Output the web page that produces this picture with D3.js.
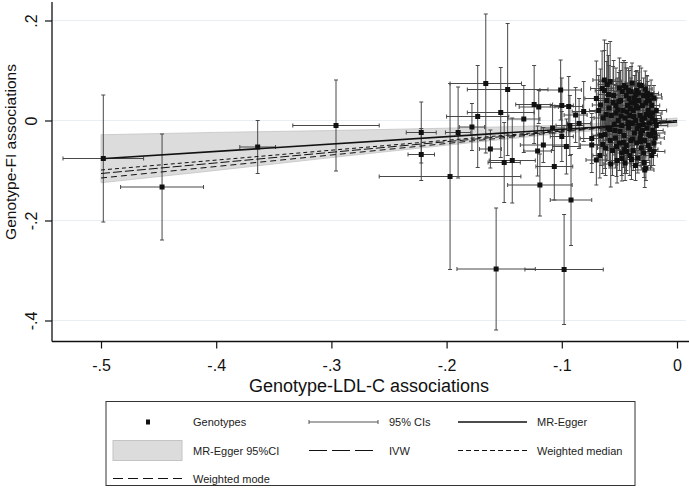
<!DOCTYPE html>
<html>
<head>
<meta charset="utf-8">
<script src="https://cdn.jsdelivr.net/npm/d3@7"></script>
<style>
html,body{margin:0;padding:0;background:#fff;}
svg{display:block;font-family:"Liberation Sans",Arial,sans-serif;}
</style>
</head>
<body>
<svg id="chart" width="689" height="489"></svg>
<script>
// ---- data ----
const xTicks = [-0.5, -0.4, -0.3, -0.2, -0.1, 0];
const xTickLabels = ["-.5", "-.4", "-.3", "-.2", "-.1", "0"];
const yTicks = [-0.4, -0.2, 0, 0.2];
const yTickLabels = ["-.4", "-.2", "0", ".2"];

// genotype-LDL-C association (x), genotype-FI association (y), 95% CI half widths
const snpBx = [
 -0.498,-0.447,-0.364,-0.296,-0.222,-0.222,-0.197,-0.157,-0.098,-0.092,
 -0.119,-0.1065,-0.143,-0.150,-0.190,-0.166,-0.147,-0.173,-0.153,-0.178,
 -0.162,-0.133,-0.124,-0.120,-0.116,-0.121,-0.101,-0.094,-0.100,-0.088,
 -0.093,-0.085,-0.096,-0.100,-0.081,-0.063,-0.058,-0.074,-0.070,-0.028,
 -0.026,-0.065,-0.070,-0.074,-0.108,
 -0.068,-0.066,-0.064,-0.062,-0.061,-0.060,-0.067,-0.063,-0.059,-0.058,
 -0.057,-0.056,-0.055,-0.054,-0.053,-0.052,-0.051,-0.050,-0.050,-0.053,
 -0.049,-0.048,-0.048,-0.047,-0.046,-0.046,-0.045,-0.045,-0.044,-0.044,-0.043,-0.042,-0.042,-0.041,-0.041,-0.040,-0.040,
 -0.039,-0.039,-0.038,-0.038,-0.037,-0.037,-0.036,-0.036,-0.035,-0.035,-0.034,-0.034,-0.033,-0.033,-0.032,-0.032,-0.031,-0.031,-0.030,-0.030,
 -0.029,-0.029,-0.028,-0.028,-0.027,-0.027,-0.026,-0.026,-0.025,-0.025,-0.024,-0.024,-0.023,-0.023,-0.022,-0.022,-0.021,-0.021,-0.020,-0.020,-0.019,-0.019,-0.018,-0.018,
 -0.0665,-0.0645,-0.0615,-0.0595,-0.0575,-0.0555,-0.0535,-0.0515,-0.0495,-0.0475,
 -0.0455,-0.0435,-0.0415,-0.0395,-0.0375,-0.0355,-0.0335,-0.0315,-0.0295,-0.0275,
 -0.0255,-0.0235,-0.0215,-0.0195,-0.0485,-0.0465,-0.0445,-0.0425,-0.0405,-0.0385,
 -0.0365,-0.0345,-0.0325,-0.0305,-0.0285,-0.0265,-0.0245,-0.0225,-0.0205,-0.0545,
 -0.0525,-0.0505,-0.0585,-0.0605,-0.0625,-0.0478,-0.0438,-0.0398,-0.0358,-0.0318
];
const snpBy = [
 -0.076,-0.133,-0.053,-0.010,-0.024,-0.068,-0.112,-0.297,-0.298,-0.159,
 -0.129,-0.092,-0.080,-0.084,-0.024,0.074,0.062,0.008,0.016,-0.013,
 -0.057,0.003,0.032,0.027,-0.049,-0.061,0.061,0.028,0.030,0.011,
 -0.010,-0.006,-0.052,-0.032,0.018,0.081,0.078,-0.049,-0.079,-0.099,
 0.054,0.064,0.044,-0.036,-0.015,
 0.020,-0.030,0.005,-0.055,0.040,-0.015,-0.070,0.060,0.025,-0.040,
 0.010,-0.060,0.050,-0.020,0.030,-0.080,0.000,0.065,-0.045,0.015,
 0.040,-0.010,-0.065,0.020,0.070,-0.030,0.005,-0.085,0.050,-0.050,0.030,-0.015,0.060,-0.070,0.010,-0.040,0.035,
 -0.005,0.075,-0.060,0.020,0.045,-0.025,-0.090,0.000,0.060,-0.045,0.025,-0.075,-0.010,0.040,-0.035,0.010,0.070,-0.055,0.030,-0.020,
 0.050,-0.065,0.005,-0.040,0.035,-0.095,0.055,-0.015,0.020,-0.050,-0.005,0.040,-0.030,0.010,-0.070,0.030,-0.020,0.015,-0.045,0.045,0.000,-0.035,0.020,-0.010,
 0.031,-0.048,0.012,0.052,-0.087,0.036,-0.035,0.021,-0.022,0.058,
 -0.058,0.017,0.044,-0.078,0.008,0.028,0.055,-0.026,-0.008,0.063,
 0.044,-0.058,0.004,-0.025,0.009,-0.044,0.066,-0.004,0.024,-0.037,
 0.036,-0.016,0.071,0.002,-0.084,0.012,-0.028,0.051,-0.062,-0.007,
 -0.052,0.038,-0.018,0.072,-0.028,-0.076,-0.062,0.058,0.052,-0.042
];
const snpBxCI = [
 0.035,0.036,0.0155,0.0375,0.013,0.0115,0.0615,0.034,0.034,0.018,
 0.028,0.016,0.020,0.014,0.011,0.031,0.035,0.027,0.029,0.011,
 0.0095,0.014,0.016,0.017,0.020,0.012,0.018,0.012,0.010,0.010,
 0.012,0.010,0.012,0.010,0.010,0.010,0.010,0.010,0.009,0.008,
 0.010,0.010,0.010,0.010,0.010,
 0.008,0.007,0.008,0.007,0.009,0.008,0.006,0.008,0.007,0.006,
 0.007,0.006,0.008,0.007,0.006,0.006,0.007,0.007,0.006,0.006,
 0.006,0.006,0.005,0.006,0.007,0.006,0.006,0.005,0.006,0.005,0.006,0.005,0.006,0.005,0.005,0.005,0.005,
 0.005,0.006,0.005,0.005,0.005,0.005,0.004,0.005,0.005,0.005,0.005,0.004,0.005,0.005,0.004,0.004,0.005,0.004,0.004,0.004,
 0.006,0.005,0.008,0.006,0.007,0.004,0.006,0.008,0.007,0.006,0.010,0.006,0.008,0.009,0.005,0.007,0.009,0.008,0.006,0.007,0.010,0.008,0.009,0.010,
 0.007,0.008,0.006,0.009,0.006,0.007,0.007,0.006,0.006,0.007,
 0.006,0.006,0.007,0.005,0.006,0.006,0.005,0.006,0.007,0.006,
 0.008,0.007,0.008,0.009,0.006,0.005,0.006,0.006,0.005,0.005,
 0.005,0.006,0.005,0.006,0.005,0.007,0.008,0.009,0.010,0.007,
 0.006,0.006,0.007,0.008,0.007,0.005,0.005,0.005,0.005,0.005
];
const snpByCI = [
 0.127,0.106,0.053,0.091,0.061,0.052,0.186,0.122,0.110,0.091,
 0.062,0.067,0.085,0.080,0.091,0.139,0.132,0.102,0.090,0.047,
 0.038,0.067,0.078,0.033,0.035,0.050,0.060,0.060,0.055,0.055,
 0.060,0.050,0.055,0.050,0.060,0.080,0.080,0.055,0.050,0.035,
 0.035,0.075,0.075,0.050,0.045,
 0.070,0.060,0.075,0.055,0.078,0.065,0.045,0.080,0.085,0.055,
 0.070,0.050,0.070,0.065,0.075,0.045,0.060,0.060,0.055,0.055,
 0.060,0.055,0.045,0.050,0.050,0.055,0.050,0.035,0.055,0.050,0.045,0.045,0.045,0.040,0.045,0.045,0.050,
 0.045,0.040,0.040,0.040,0.045,0.040,0.030,0.040,0.040,0.040,0.035,0.030,0.035,0.040,0.035,0.035,0.035,0.035,0.035,0.030,
 0.035,0.030,0.030,0.030,0.030,0.025,0.035,0.030,0.030,0.030,0.030,0.030,0.030,0.025,0.025,0.025,0.025,0.025,0.025,0.025,0.025,0.025,0.025,0.020,
 0.072,0.058,0.066,0.078,0.046,0.072,0.060,0.064,0.055,0.058,
 0.048,0.052,0.056,0.040,0.048,0.045,0.042,0.040,0.038,0.036,
 0.034,0.032,0.030,0.028,0.058,0.050,0.050,0.048,0.046,0.044,
 0.042,0.040,0.038,0.036,0.030,0.032,0.030,0.030,0.028,0.062,
 0.060,0.058,0.066,0.082,0.068,0.045,0.044,0.050,0.046,0.038
];

// MR-Egger 95% CI band
const bandX = [-0.5, -0.4, -0.3, -0.2, -0.1, -0.05, 0];
const bandLower = [-0.1245, -0.0998, -0.0741, -0.0494, -0.0257, -0.0164, -0.011];
const bandUpper = [-0.0285, -0.0238, -0.0201, -0.0154, -0.0097, -0.0044, 0.005];

// fitted lines (y at the two ends of lineX)
const lineX = [-0.5, 0];
const eggerY = [-0.0765, -0.003];
const ivwY = [-0.106, 0];
const medianY = [-0.099, 0];
const modeY = [-0.115, 0];

// ---- drawing ----
const svg = d3.select("#chart");
const x = d3.scaleLinear().domain([-0.5, 0]).range([101, 677]);
const y = d3.scaleLinear().domain([-0.4, 0.2]).range([320.5, 20.5]);
const plotL = 52, plotR = 689, plotT = 2, plotB = 341.5;

// gridlines
svg.append("g").selectAll("line").data(yTicks).join("line")
  .attr("x1", plotL).attr("x2", 686)
  .attr("y1", d => y(d)).attr("y2", d => y(d))
  .attr("stroke", "#e8eff2").attr("stroke-width", 1.2);

// band
const bandData = bandX.map((v, i) => ({x: v, lo: bandLower[i], hi: bandUpper[i]}));
svg.append("path").datum(bandData)
  .attr("d", d3.area().x(d => x(d.x)).y0(d => y(d.lo)).y1(d => y(d.hi)))
  .attr("fill", "#dcdcdc").attr("stroke", "#c4c4c4").attr("stroke-width", 0.8);

// genotypes with CIs
const snps = snpBx.map((v, i) => ({bx: v, by: snpBy[i], hx: snpBxCI[i], hy: snpByCI[i]}));
const ci = svg.append("g").attr("stroke", "#484848").attr("stroke-width", 1).attr("fill", "none");
const cap = 2;
snps.forEach(d => {
  const cx = x(d.bx), cy = y(d.by);
  const x0 = x(d.bx - d.hx), x1 = x(d.bx + d.hx);
  const y0 = y(d.by - d.hy), y1 = y(d.by + d.hy);
  ci.append("line").attr("x1", cx).attr("x2", cx).attr("y1", y0).attr("y2", y1);
  ci.append("line").attr("x1", cx - cap).attr("x2", cx + cap).attr("y1", y0).attr("y2", y0);
  ci.append("line").attr("x1", cx - cap).attr("x2", cx + cap).attr("y1", y1).attr("y2", y1);
  ci.append("line").attr("x1", x0).attr("x2", x1).attr("y1", cy).attr("y2", cy);
  ci.append("line").attr("x1", x0).attr("x2", x0).attr("y1", cy - cap).attr("y2", cy + cap);
  ci.append("line").attr("x1", x1).attr("x2", x1).attr("y1", cy - cap).attr("y2", cy + cap);
});
svg.append("g").selectAll("rect").data(snps).join("rect")
  .attr("x", d => x(d.bx) - 2.5).attr("y", d => y(d.by) - 2.5)
  .attr("width", 5).attr("height", 5).attr("fill", "#111");

// fitted lines
const lineGen = d3.line().x(d => x(d[0])).y(d => y(d[1]));
const fits = [
  {ys: medianY, dash: "4,3", w: 1},
  {ys: ivwY, dash: "9,3", w: 1},
  {ys: modeY, dash: "6,4", w: 1},
  {ys: eggerY, dash: null, w: 1.6}
];
fits.forEach(f => {
  svg.append("path").datum(lineX.map((v, i) => [v, f.ys[i]]))
    .attr("d", lineGen).attr("fill", "none").attr("stroke", "#111")
    .attr("stroke-width", f.w).attr("stroke-dasharray", f.dash);
});

// axes
svg.append("line").attr("x1", plotL).attr("x2", plotL).attr("y1", plotT).attr("y2", plotB)
  .attr("stroke", "#111").attr("stroke-width", 1.3);
svg.append("line").attr("x1", plotL).attr("x2", plotR).attr("y1", plotB).attr("y2", plotB)
  .attr("stroke", "#111").attr("stroke-width", 1.3);

const xAxis = d3.axisBottom(x).tickValues(xTicks).tickSize(7).tickFormat((d, i) => xTickLabels[i]);
const gx = svg.append("g").attr("transform", `translate(0,${plotB})`).call(xAxis);
gx.select(".domain").remove();
gx.selectAll(".tick line").attr("stroke", "#111").attr("stroke-width", 1.2);
gx.selectAll(".tick text").attr("font-size", 16).attr("fill", "#111").attr("y", 18)
  .attr("font-family", "Liberation Sans, Arial, sans-serif");

const yAxis = d3.axisLeft(y).tickValues(yTicks).tickSize(7).tickFormat((d, i) => yTickLabels[i]);
const gy = svg.append("g").attr("transform", `translate(${plotL},0)`).call(yAxis);
gy.select(".domain").remove();
gy.selectAll(".tick line").attr("stroke", "#111").attr("stroke-width", 1.2);
gy.selectAll(".tick text").attr("font-size", 16).attr("fill", "#111")
  .attr("font-family", "Liberation Sans, Arial, sans-serif")
  .attr("text-anchor", "middle").attr("x", null).attr("dy", null)
  .attr("transform", "translate(-15,0) rotate(-90)");

// axis titles
svg.append("text").attr("x", 369).attr("y", 392).attr("text-anchor", "middle")
  .attr("font-size", 18).attr("fill", "#111").text("Genotype-LDL-C associations");
svg.append("text").attr("transform", "translate(15.5,152) rotate(-90)").attr("text-anchor", "middle")
  .attr("font-size", 15.5).attr("fill", "#111").text("Genotype-FI associations");

// legend
const lg = svg.append("g");
lg.append("rect").attr("x", 106).attr("y", 401.5).attr("width", 529).attr("height", 84)
  .attr("fill", "#fff").attr("stroke", "#333").attr("stroke-width", 1);
const legItems = [
  {col: 0, row: 0, label: "Genotypes", type: "point"},
  {col: 1, row: 0, label: "95% CIs", type: "ci"},
  {col: 2, row: 0, label: "MR-Egger", type: "line", dash: null, w: 1.6},
  {col: 0, row: 1, label: "MR-Egger 95%CI", type: "band"},
  {col: 1, row: 1, label: "IVW", type: "line", dash: "18,5", w: 1},
  {col: 2, row: 1, label: "Weighted median", type: "line", dash: "5,3", w: 1},
  {col: 0, row: 2, label: "Weighted mode", type: "line", dash: "10,5", w: 1}
];
const colSym = [113, 309, 458], colText = [193, 389, 537], rowY = [422, 450.5, 478.5];
legItems.forEach(it => {
  const sx = colSym[it.col], cy = rowY[it.row];
  if (it.type === "point") {
    lg.append("rect").attr("x", sx + 33).attr("y", cy - 2.5).attr("width", 4).attr("height", 5).attr("fill", "#111");
  } else if (it.type === "ci") {
    lg.append("line").attr("x1", sx).attr("x2", sx + 69).attr("y1", cy).attr("y2", cy).attr("stroke", "#555");
    lg.append("line").attr("x1", sx).attr("x2", sx).attr("y1", cy - 2).attr("y2", cy + 2).attr("stroke", "#555");
    lg.append("line").attr("x1", sx + 69).attr("x2", sx + 69).attr("y1", cy - 2).attr("y2", cy + 2).attr("stroke", "#555");
  } else if (it.type === "band") {
    lg.append("rect").attr("x", sx).attr("y", cy - 10).attr("width", 69).attr("height", 20)
      .attr("fill", "#dcdcdc").attr("stroke", "#c4c4c4");
  } else {
    lg.append("line").attr("x1", sx).attr("x2", sx + 69).attr("y1", cy).attr("y2", cy)
      .attr("stroke", "#111").attr("stroke-width", it.w).attr("stroke-dasharray", it.dash);
  }
  lg.append("text").attr("x", colText[it.col]).attr("y", cy + 4).attr("font-size", 11)
    .attr("fill", "#222").text(it.label);
});
</script>
</body>
</html>
